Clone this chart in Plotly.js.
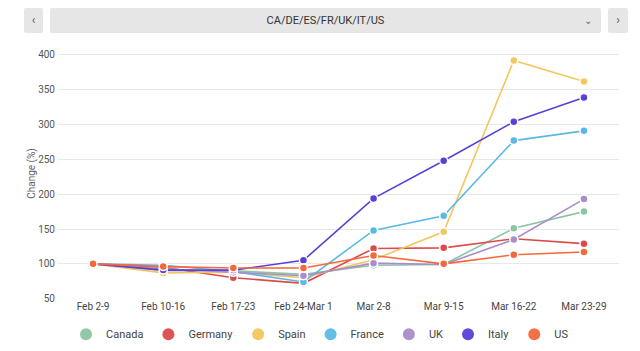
<!DOCTYPE html>
<html>
<head>
<meta charset="utf-8">
<script src="https://cdn.plot.ly/plotly-3.0.1.min.js"></script>
<style>
html,body{margin:0;padding:0;background:#fff;width:640px;height:351px;overflow:hidden;font-family:Roboto,"Noto Sans",sans-serif;}
#chart{position:absolute;left:0;top:0;width:640px;height:351px;}
.btn{position:absolute;top:8px;height:25px;background:#e6e6e6;border-radius:2px;color:#555;font-size:12px;line-height:25px;text-align:center;}
</style>
</head>
<body>
<div id="chart"></div>
<div class="btn" style="left:24px;width:19px;">&#8249;</div>
<div class="btn" style="left:50px;width:551px;color:#333;font-size:11px;">CA/DE/ES/FR/UK/IT/US<span style="position:absolute;left:534px;top:0;font-size:10px;color:#666;">&#8964;</span></div>
<div class="btn" style="left:608px;width:20px;">&#8250;</div>
<script>
const weeks = ["Feb 2-9","Feb 10-16","Feb 17-23","Feb 24-Mar 1","Mar 2-8","Mar 9-15","Mar 16-22","Mar 23-29"];
const yTicks = [50,100,150,200,250,300,350,400];

const canada  = [100, 90, 90, 85, 98, 99, 151, 175];
const germany = [100, 95, 80, 72, 122, 123, 136, 129];
const spain   = [100, 87, 88, 80, 106, 146, 392, 362];
const france  = [100, 98, 89, 74, 148, 169, 277, 291];
const uk      = [100, 93, 88, 83, 101, 99, 135, 193];
const italy   = [100, 91, 91, 105, 194, 248, 304, 339];
const us      = [100, 96, 94, 94, 112, 100, 113, 117];

const names  = ["Canada","Germany","Spain","France","UK","Italy","US"];
const series = [canada, germany, spain, france, uk, italy, us];
const colors = ["#8cc5a2","#dc4b4b","#f2c75f","#5bb9e3","#a98ccb","#5b3fd8","#f4683a"];

const traces = [];
series.forEach((vals, i) => {
  traces.push({
    type: "scatter", mode: "lines+markers", x: weeks, y: vals, name: names[i],
    line: {color: colors[i], width: 1.6},
    marker: {color: colors[i], size: 8, line: {color: "#fff", width: 1.5}},
    showlegend: false, hoverinfo: "x+y+name"
  });
});
series.forEach((vals, i) => {
  traces.push({
    type: "scatter", mode: "markers", x: [null], y: [null], name: names[i],
    marker: {color: colors[i], size: 12, opacity: 0.95}, showlegend: true
  });
});

const layout = {
  width: 640, height: 351,
  margin: {l: 58, r: 21, t: 48, b: 52},
  paper_bgcolor: "#fff", plot_bgcolor: "#fff",
  font: {family: "Roboto, sans-serif", color: "#444", size: 10},
  showlegend: true,
  legend: {orientation: "h", x: 0.5, xref: "container", xanchor: "center",
           y: 0.048, yref: "container", yanchor: "middle",
           font: {size: 11, color: "#444"}, itemwidth: 30, tracegroupgap: 0},
  xaxis: {type: "category", range: [-0.5, 7.5], showgrid: false, zeroline: false,
          showline: false, ticks: "", tickfont: {size: 10, color: "#444"}, fixedrange: true},
  yaxis: {range: [49.5, 410], tickvals: yTicks, ticktext: yTicks.map(String),
          showgrid: true, gridcolor: "#e8e8e8", gridwidth: 1, zeroline: false, showline: false,
          ticks: "", tickfont: {size: 10, color: "#555"}, ticklabelstandoff: 2,
          title: {text: "Change (%)", font: {size: 10, color: "#666"}, standoff: 0}, fixedrange: true}
};

Plotly.newPlot("chart", traces, layout, {displayModeBar: false, staticPlot: true});
</script>
</body>
</html>
